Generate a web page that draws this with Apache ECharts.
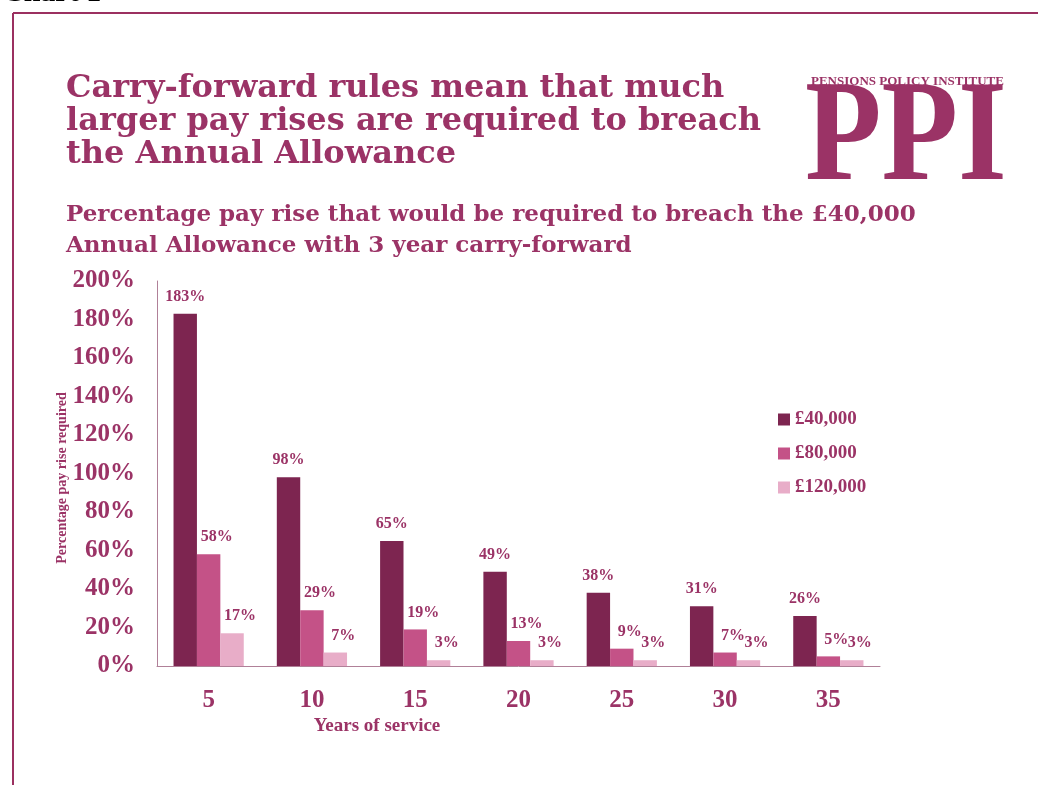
<!DOCTYPE html>
<html>
<head>
<meta charset="utf-8">
<script src="https://cdn.jsdelivr.net/npm/echarts@6/dist/echarts.min.js"></script>
<style>
  html, body { margin: 0; padding: 0; background: #fff; }
  #chart { width: 1038px; height: 785px; }
</style>
</head>
<body>
<div id="chart"></div>
<script>
// Years of service on the category axis
var years = ['5', '10', '15', '20', '25', '30', '35'];
// Pay rise (%) needed to breach the Annual Allowance, by starting salary
var pay40k = [183, 98, 65, 49, 38, 31, 26];
var pay80k = [58, 29, 19, 13, 9, 7, 5];
var pay120k = [17, 7, 3, 3, 3, 3, 3];
var seriesNames = ['£40,000', '£80,000', '£120,000'];
var yTicks = [0, 20, 40, 60, 80, 100, 120, 140, 160, 180, 200];

var FONT = '"Liberation Serif", "DejaVu Serif", serif';
var HEAD = '"DejaVu Serif", "Liberation Serif", serif';
var PLUM = '#9b3366';
var colors = ['#7d2550', '#c45287', '#e8adc8'];

var chart = echarts.init(document.getElementById('chart'));

function barSeries(name, data, color, dx) {
  return {
    name: name,
    type: 'bar',
    data: data,
    barGap: '0%',
    barCategoryGap: '32%',
    itemStyle: { color: color },
    label: {
      show: true,
      position: 'top',
      distance: 9,
      offset: [dx, 0],
      formatter: '{c}%',
      color: PLUM,
      fontFamily: FONT,
      fontWeight: 'bold',
      fontSize: 16
    }
  };
}

chart.setOption({
  animation: false,
  textStyle: { fontFamily: FONT },
  grid: { left: 157, right: 158, top: 281, bottom: 119, containLabel: false },
  legend: {
    orient: 'vertical',
    left: 773,
    top: 405,
    itemWidth: 12,
    itemHeight: 12,
    itemGap: 15,
    icon: 'rect',
    textStyle: { color: PLUM, fontFamily: FONT, fontWeight: 'bold', fontSize: 19 },
    data: seriesNames
  },
  xAxis: {
    type: 'category',
    data: years,
    axisLine: { lineStyle: { color: '#b08098', width: 1 } },
    axisTick: { show: false },
    axisLabel: { color: PLUM, fontFamily: FONT, fontWeight: 'bold', fontSize: 25, margin: 22 }
  },
  yAxis: {
    type: 'value',
    min: yTicks[0],
    max: yTicks[yTicks.length - 1],
    interval: 20,
    axisLine: { show: true, lineStyle: { color: '#b08098', width: 1 } },
    axisTick: { show: false },
    splitLine: { show: false },
    axisLabel: {
      color: PLUM, fontFamily: FONT, fontWeight: 'bold', fontSize: 25, margin: 22,
      formatter: '{value}%'
    }
  },
  series: [
    barSeries(seriesNames[0], pay40k, colors[0], 0),
    barSeries(seriesNames[1], pay80k, colors[1], 8),
    barSeries(seriesNames[2], pay120k, colors[2], 8)
  ],
  graphic: [
    // page frame
    { type: 'line', shape: { x1: 13, y1: 13, x2: 1038, y2: 13 }, style: { stroke: '#9b3060', lineWidth: 2 } },
    { type: 'line', shape: { x1: 13, y1: 13, x2: 13, y2: 785 }, style: { stroke: '#9b3060', lineWidth: 2 } },
    { type: 'text', left: 2, top: -22, style: { text: 'Chart 1', fill: '#000', font: 'bold 30px ' + FONT } },
    // headline
    { type: 'text', left: 66, top: 72, style: {
      text: 'Carry-forward rules mean that much\nlarger pay rises are required to breach\nthe Annual Allowance',
      fill: PLUM, font: 'bold 32px ' + HEAD, lineHeight: 33 } },
    { type: 'text', left: 66, top: 200, style: {
      text: 'Percentage pay rise that would be required to breach the £40,000\nAnnual Allowance with 3 year carry-forward',
      fill: PLUM, font: 'bold 23px ' + HEAD, lineHeight: 31 } },
    // logo
    { type: 'text', x: 805, y: 214, scaleX: 0.87, style: {
      text: 'PPI', fill: PLUM, font: 'bold 144px ' + FONT, textVerticalAlign: 'bottom' } },
    { type: 'text', left: 811, top: 75, style: { text: 'PENSIONS POLICY INSTITUTE', fill: PLUM, font: 'bold 13px ' + FONT } },
    // axis names
    { type: 'text', x: 62, y: 478, rotation: Math.PI / 2, style: {
      text: 'Percentage pay rise required', fill: PLUM, font: 'bold 14px ' + FONT,
      textAlign: 'center', textVerticalAlign: 'middle' } },
    { type: 'text', x: 377, y: 726, style: {
      text: 'Years of service', fill: PLUM, font: 'bold 19px ' + FONT,
      textAlign: 'center', textVerticalAlign: 'middle' } }
  ]
});
</script>
</body>
</html>
